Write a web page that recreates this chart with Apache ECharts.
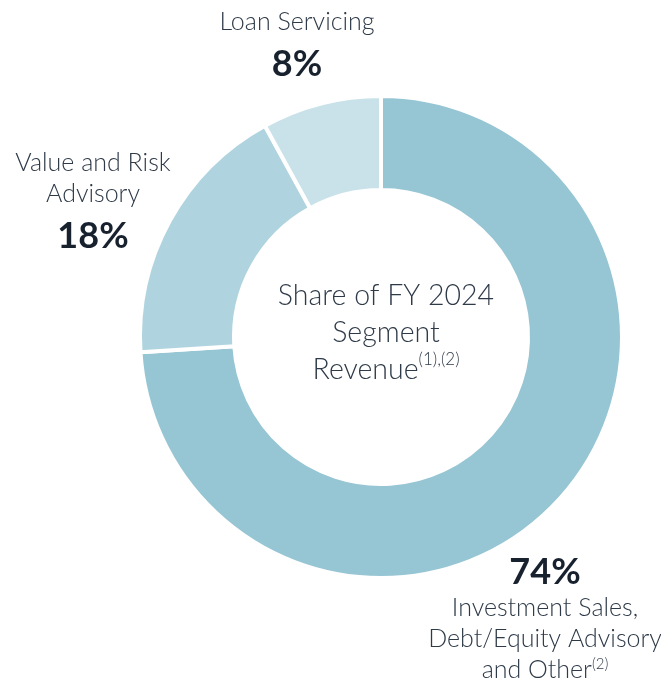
<!DOCTYPE html>
<html>
<head>
<meta charset="utf-8">
<script src="https://cdn.jsdelivr.net/npm/echarts@6/dist/echarts.min.js"></script>
<style>
  html, body { margin: 0; padding: 0; background: #fff; }
  #chart { width: 661px; height: 684px; }
</style>
</head>
<body>
<div id="chart"></div>
<script>
var segmentNames = ['Investment Sales,\nDebt/Equity Advisory\nand Other', 'Value and Risk\nAdvisory', 'Loan Servicing'];
var segmentNotes = ['(2)', '', ''];
var segmentShares = [74, 18, 8];
var segmentColors = ['#96c5d4', '#b0d4df', '#c9e2ea'];
var centerLines = ['Share of FY 2024', 'Segment', 'Revenue'];
var centerNote = '(1),(2)';

// label anchor positions (x, y of top-centre), one per slice
var labelSpots = [[545, 552], [93, 147], [297, 6]];

var chart = echarts.init(document.getElementById('chart'));

var FONT = 'Lato';
var textColor = '#2e3a48';
var boldColor = '#18222f';

function labelText(item, idx) {
  var nameLines = item.name.split('\n');
  var last = nameLines.length - 1;
  var nameStr = nameLines.map(function (l, i) {
    var s = '{nm|' + l + '}';
    if (i === last && segmentNotes[idx]) s += '{sup|' + segmentNotes[idx] + '}';
    return s;
  }).join('\n');
  if (idx === 0) return '{pct|' + item.value + '%}\n' + nameStr;
  return nameStr + '\n{pctLow|' + item.value + '%}';
}

chart.setOption({
  animation: false,
  title: {
    left: 381,
    top: 272,
    textAlign: 'center',
    text: '{c|' + centerLines[0] + '}\n{c|' + centerLines[1] + '}\n{c|' + centerLines[2] + '}{sup|' + centerNote + '}',
    textStyle: {
      rich: {
        c: { fontFamily: FONT, fontWeight: 300, fontSize: 28.5, color: textColor, lineHeight: 37 },
        sup: { fontFamily: FONT, fontWeight: 300, fontSize: 17, color: textColor, verticalAlign: 'top', lineHeight: 37, padding: [0, 0, 10, 0] }
      }
    }
  },
  series: [{
    type: 'pie',
    center: [381, 337],
    radius: [147, 241],
    startAngle: 90,
    clockwise: true,
    silent: true,
    itemStyle: { borderColor: '#ffffff', borderWidth: 4 },
    emphasis: { disabled: true },
    labelLine: { show: false },
    label: {
      show: true,
      position: 'outside',
      overflow: 'none',
      formatter: function (p) { return labelText(p.data, p.dataIndex); },
      rich: {
        nm: { fontFamily: FONT, fontWeight: 300, fontSize: 25, color: textColor, lineHeight: 31, align: 'center' },
        sup: { fontFamily: FONT, fontWeight: 300, fontSize: 15, color: textColor, lineHeight: 31, padding: [0, 0, 10, 0] },
        pct: { fontFamily: FONT, fontWeight: 'bold', fontSize: 36, color: boldColor, lineHeight: 40, align: 'center' },
        pctLow: { fontFamily: FONT, fontWeight: 'bold', fontSize: 36, color: boldColor, lineHeight: 44, align: 'center', padding: [10, 0, 0, 0] }
      }
    },
    labelLayout: function (p) {
      var s = labelSpots[p.dataIndex];
      return { x: s[0], y: s[1], align: 'center', verticalAlign: 'top' };
    },
    data: segmentShares.map(function (v, i) {
      return { name: segmentNames[i], value: v, itemStyle: { color: segmentColors[i] } };
    })
  }]
});
</script>
</body>
</html>
